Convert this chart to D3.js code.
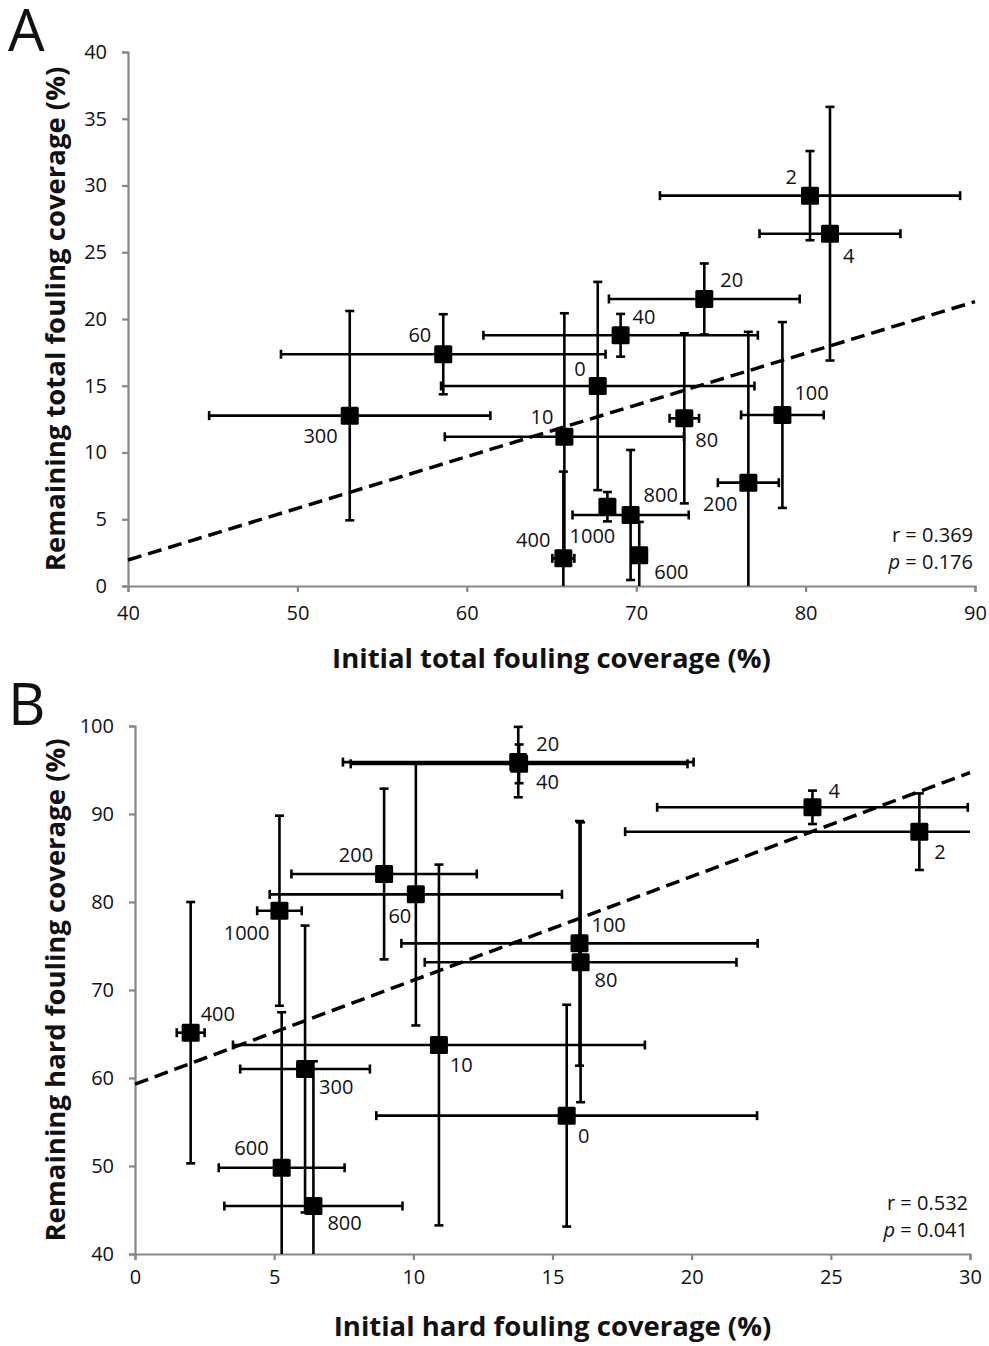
<!DOCTYPE html>
<html>
<head>
<meta charset="utf-8">
<script src="https://cdn.jsdelivr.net/npm/d3@7"></script>
<style>
  body { margin: 0; background: #fff; }
  text { font-family: "Open Sans", Lato, sans-serif; fill: #111; }
</style>
</head>
<body>
<div id="chart"></div>
<script>
/* Fouling coverage scatter, two panels with x/y error bars */

// panel A: total fouling
const labelsA    = ["0", "2", "4", "10", "20", "40", "60", "80", "100", "200", "300", "400", "600", "800", "1000"];
const initA      = [67.73, 80.26, 81.44, 65.76, 74.02, 69.08, 58.61, 72.84, 78.63, 76.62, 53.09, 65.7, 70.18, 69.67, 68.3];
const remainA    = [14.98, 29.24, 26.39, 11.18, 21.5, 18.78, 17.36, 12.56, 12.81, 7.74, 12.76, 2.07, 2.3, 5.32, 5.94];
const initErrA   = [9.25, 8.86, 4.16, 7.06, 5.63, 8.1, 9.58, 0.87, 2.44, 1.8, 8.3, 0.65, 0.3, 3.43, 0.3];
const remainErrA = [7.8, 3.34, 9.5, 9.25, 2.66, 1.6, 3.0, 6.37, 6.96, 11.3, 7.84, 6.5, 2.5, 4.87, 1.1];
const trendA     = [[40, 1.95], [90, 21.3]];
const xTicksA    = [40, 50, 60, 70, 80, 90];
const yTicksA    = [0, 5, 10, 15, 20, 25, 30, 35, 40];
const statsA     = ["r = 0.369", "0.176"];

// panel B: hard fouling
const labelsB    = ["0", "2", "4", "10", "20", "40", "60", "80", "100", "200", "300", "400", "600", "800", "1000"];
const initB      = [15.51, 28.18, 24.34, 10.92, 13.77, 13.8, 10.09, 16.01, 15.97, 8.95, 6.11, 2.0, 5.27, 6.41, 5.19];
const remainB    = [55.72, 87.99, 90.76, 63.75, 95.9, 95.7, 80.87, 73.15, 75.3, 83.18, 61.02, 65.15, 49.8, 45.45, 79.01];
const initErrB   = [6.84, 10.57, 5.58, 7.4, 6.3, 6.05, 5.25, 5.6, 6.4, 3.33, 2.33, 0.5, 2.26, 3.2, 0.8];
const remainErrB = [12.6, 4.35, 1.9, 20.5, 4.0, 2.2, 14.9, 15.9, 13.9, 9.7, 16.3, 14.85, 17.67, 16.45, 10.8];
const trendB     = [[0, 59.3], [30, 94.7]];
const xTicksB    = [0, 5, 10, 15, 20, 25, 30];
const yTicksB    = [40, 50, 60, 70, 80, 90, 100];
const statsB     = ["r = 0.532", "0.041"];

// where each point label sits relative to its marker: [anchor, dx, dy]
const placeA = {
    "0": ["end", -12, -10], "2": ["end", -13, -12], "4": ["start", 13, 29],
    "10": ["end", -11, -13], "20": ["start", 16, -12], "40": ["start", 12, -11],
    "60": ["end", -12, -12], "80": ["start", 11, 29], "100": ["start", 12, -15],
    "200": ["end", -11, 28], "300": ["end", -12, 27], "400": ["end", -13, -11],
    "600": ["start", 15, 24], "800": ["start", 13, -13], "1000": ["middle", -15, 36]
};
const placeB = {
    "0": ["middle", 17, 27], "2": ["start", 15, 27], "4": ["start", 16, -9],
    "10": ["start", 11, 27], "20": ["start", 18, -11], "40": ["start", 17, 25],
    "60": ["middle", -16, 29], "80": ["start", 14, 25], "100": ["start", 12, -11],
    "200": ["end", -11, -12], "300": ["start", 14, 25], "400": ["start", 10, -12],
    "600": ["end", -13, -13], "800": ["start", 14, 24], "1000": ["end", -10, 29]
};

const width = 989, height = 1346;

const svg = d3.select("#chart")
    .append("svg")
    .attr("width", width)
    .attr("height", height)
    .attr("viewBox", [0, 0, width, height]);

function drawPanel(cfg) {
    const x = d3.scaleLinear().domain(cfg.xDomain).range([cfg.left, cfg.right]);
    const y = d3.scaleLinear().domain(cfg.yDomain).range([cfg.bottom, cfg.top]);

    const data = cfg.labels.map((l, i) => ({
        label: l, x: cfg.xs[i], y: cfg.ys[i], ex: cfg.exs[i], ey: cfg.eys[i]
    }));

    const g = svg.append("g");

    // axes
    const yAxis = g.append("g")
        .attr("transform", `translate(${cfg.left},0)`)
        .call(d3.axisLeft(y).tickValues(cfg.yTicks).tickSize(6).tickPadding(15));
    const xAxis = g.append("g")
        .attr("transform", `translate(0,${cfg.bottom})`)
        .call(d3.axisBottom(x).tickValues(cfg.xTicks).tickSize(6).tickPadding(cfg.xPad));
    for (let ax of [xAxis, yAxis]) {
        ax.select(".domain").attr("stroke", "#878787").attr("stroke-width", 2.2);
        ax.selectAll(".tick line").attr("stroke", "#878787").attr("stroke-width", 2.2);
        ax.selectAll(".tick text").style("font-size", "20px").attr("fill", "#111");
    }

    // trend line
    g.append("line")
        .attr("x1", x(cfg.trend[0][0])).attr("y1", y(cfg.trend[0][1]))
        .attr("x2", x(cfg.trend[1][0])).attr("y2", y(cfg.trend[1][1]))
        .attr("stroke", "#000")
        .attr("stroke-width", 3.5)
        .attr("stroke-dasharray", "14,7");

    const clampX = v => Math.max(cfg.xDomain[0], Math.min(cfg.xDomain[1], v));
    const clampY = v => Math.max(cfg.yDomain[0], Math.min(cfg.yDomain[1], v));
    const cap = 4.5;

    const pts = g.selectAll(".pt")
        .data(data)
        .join("g")
        .attr("class", "pt");

    pts.each(function(d) {
        const p = d3.select(this);
        // horizontal error bar
        const lo = d.x - d.ex, hi = d.x + d.ex;
        p.append("line")
            .attr("x1", x(clampX(lo))).attr("x2", x(clampX(hi)))
            .attr("y1", y(d.y)).attr("y2", y(d.y))
            .attr("stroke", "#000").attr("stroke-width", 2.6);
        for (let v of [lo, hi]) {
            if (v < cfg.xDomain[0] || v > cfg.xDomain[1]) continue;
            p.append("line")
                .attr("x1", x(v)).attr("x2", x(v))
                .attr("y1", y(d.y) - cap).attr("y2", y(d.y) + cap)
                .attr("stroke", "#000").attr("stroke-width", 2.6);
        }
        // vertical error bar
        const vlo = d.y - d.ey, vhi = d.y + d.ey;
        p.append("line")
            .attr("x1", x(d.x)).attr("x2", x(d.x))
            .attr("y1", y(clampY(vlo))).attr("y2", y(clampY(vhi)))
            .attr("stroke", "#000").attr("stroke-width", 2.6);
        for (let v of [vlo, vhi]) {
            if (v < cfg.yDomain[0] || v > cfg.yDomain[1]) continue;
            p.append("line")
                .attr("x1", x(d.x) - cap).attr("x2", x(d.x) + cap)
                .attr("y1", y(v)).attr("y2", y(v))
                .attr("stroke", "#000").attr("stroke-width", 2.6);
        }
    });

    // square markers
    pts.append("rect")
        .attr("x", d => x(d.x) - 9)
        .attr("y", d => y(d.y) - 9)
        .attr("width", 18)
        .attr("height", 18)
        .attr("rx", 1.5)
        .attr("fill", "#000");

    // point labels
    pts.append("text")
        .attr("x", d => x(d.x) + cfg.place[d.label][1])
        .attr("y", d => y(d.y) + cfg.place[d.label][2])
        .attr("text-anchor", d => cfg.place[d.label][0])
        .style("font-size", "20px")
        .text(d => d.label);

    // stats
    g.append("text")
        .attr("x", cfg.right - 2).attr("y", cfg.statY)
        .attr("text-anchor", "end")
        .style("font-size", "20px")
        .text(cfg.stats[0]);
    const pt = g.append("text")
        .attr("x", cfg.right - 2).attr("y", cfg.statY + 27)
        .attr("text-anchor", "end")
        .style("font-size", "20px");
    pt.append("tspan").style("font-style", "italic").text("p");
    pt.append("tspan").text(" =  " + cfg.stats[1]);

    // axis titles
    g.append("text")
        .attr("x", (cfg.left + cfg.right) / 2)
        .attr("y", cfg.bottom + 82)
        .attr("text-anchor", "middle")
        .style("font-size", "27.5px")
        .style("font-weight", "bold")
        .text(cfg.xTitle);
    g.append("text")
        .attr("transform", `translate(${cfg.yTitleX},${(cfg.top + cfg.bottom) / 2}) rotate(-90)`)
        .attr("text-anchor", "middle")
        .style("font-size", "27.5px")
        .style("font-weight", "bold")
        .text(cfg.yTitle);

    // panel letter
    g.append("text")
        .attr("x", 8).attr("y", cfg.letterY)
        .style("font-size", "58px")
        .text(cfg.letter);
}

drawPanel({
    labels: labelsA, xs: initA, ys: remainA, exs: initErrA, eys: remainErrA,
    trend: trendA, xTicks: xTicksA, yTicks: yTicksA, stats: statsA, place: placeA,
    xDomain: [40, 90], yDomain: [0, 40],
    left: 128, right: 975, top: 52, bottom: 586, xPad: 14,
    statY: 542, yTitleX: 65, letterY: 51, letter: "A",
    xTitle: "Initial total fouling coverage (%)",
    yTitle: "Remaining total fouling coverage (%)"
});

drawPanel({
    labels: labelsB, xs: initB, ys: remainB, exs: initErrB, eys: remainErrB,
    trend: trendB, xTicks: xTicksB, yTicks: yTicksB, stats: statsB, place: placeB,
    xDomain: [0, 30], yDomain: [40, 100],
    left: 135, right: 970, top: 726, bottom: 1254, xPad: 10,
    statY: 1210, yTitleX: 65, letterY: 725, letter: "B",
    xTitle: "Initial hard fouling coverage (%)",
    yTitle: "Remaining hard fouling coverage (%)"
});
</script>
</body>
</html>
